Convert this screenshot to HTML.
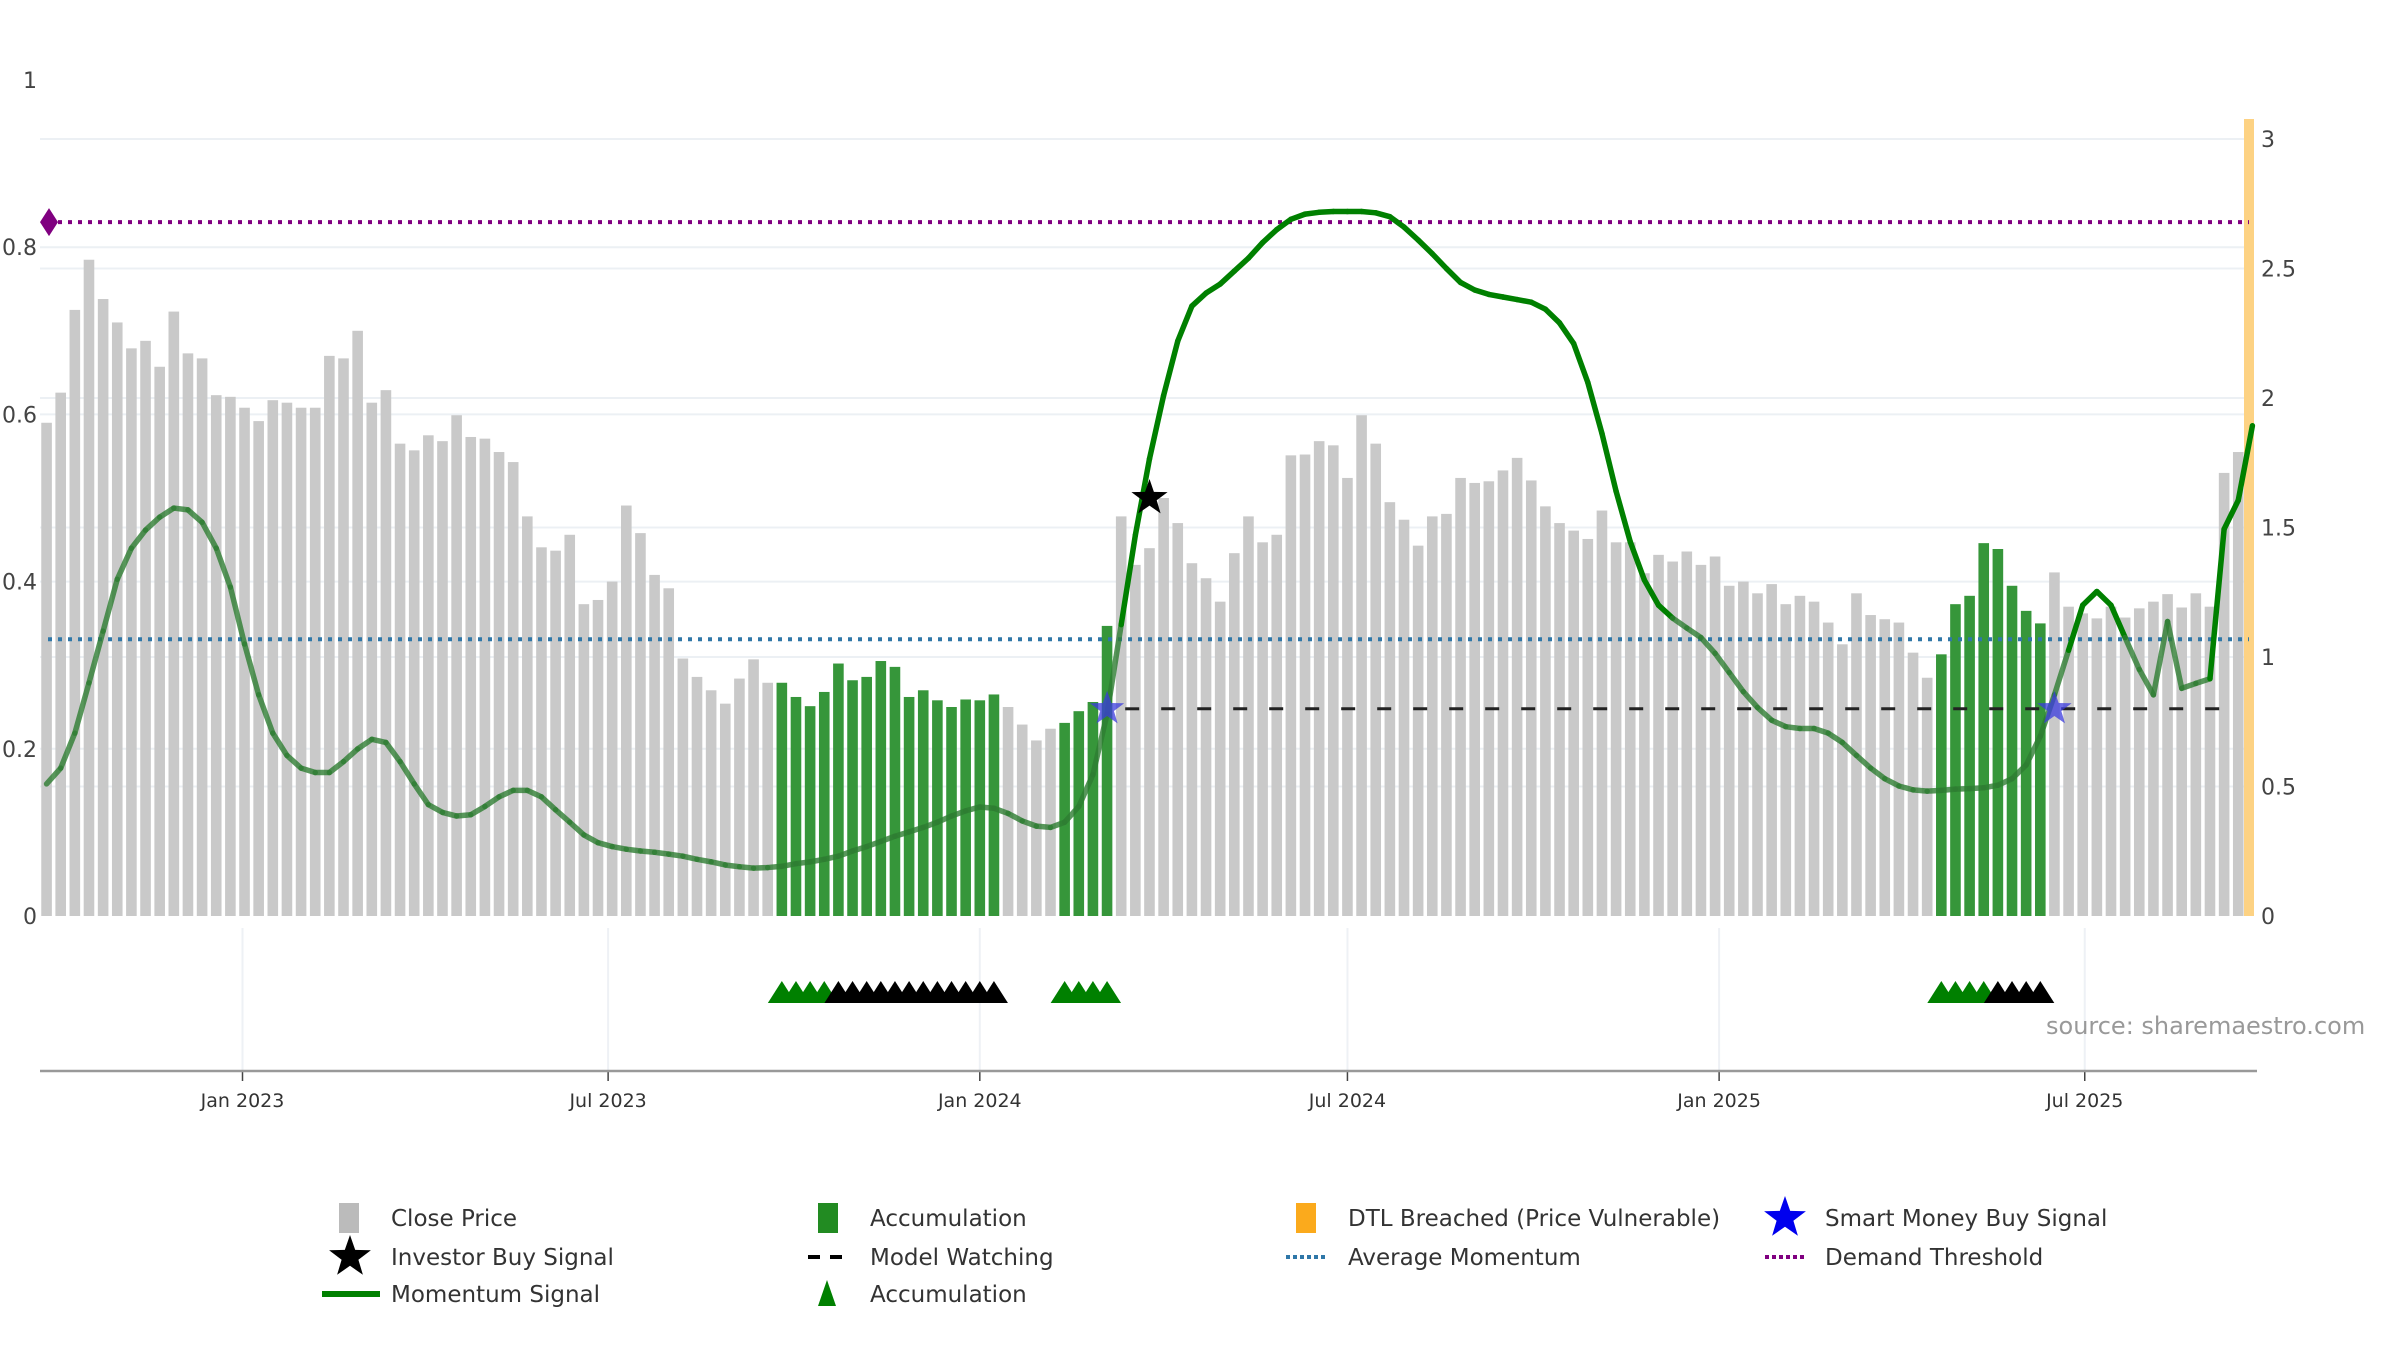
<!DOCTYPE html>
<html><head><meta charset="utf-8"><style>
html,body{margin:0;padding:0;background:#fff;}
svg{display:block;font-family:"DejaVu Sans","Liberation Sans",sans-serif;}
</style></head><body>
<svg id="chart" width="2400" height="1350" viewBox="0 0 2400 1350" xmlns="http://www.w3.org/2000/svg">
<g id="grid"></g>
<g id="bars"></g>
<g id="lines"></g>
<g id="momentum"></g>
<g id="markers"></g>
<g id="axes"></g>
<text x="2046" y="1034" font-size="24" fill="#999">source: sharemaestro.com</text>
<g id="legend"></g>
</svg>
<script>
const closePrices = [0.59,0.626,0.725,0.785,0.738,0.71,0.679,0.688,0.657,0.723,
0.673,0.667,0.623,0.621,0.608,0.592,0.617,0.614,0.608,0.608,
0.67,0.667,0.70,0.614,0.629,0.565,0.557,0.575,0.568,0.599,
0.573,0.571,0.555,0.543,0.478,0.441,0.437,0.456,0.373,0.378,
0.40,0.491,0.458,0.408,0.392,0.308,0.286,0.27,0.254,0.284,
0.307,0.279,0.279,0.262,0.251,0.268,0.302,0.282,0.286,0.305,
0.298,0.262,0.27,0.258,0.25,0.259,0.258,0.265,0.25,0.229,
0.21,0.224,0.231,0.245,0.256,0.347,0.478,0.42,0.44,0.50,
0.47,0.422,
0.404,0.376,0.434,0.478,0.447,0.456,0.551,0.552,0.568,0.563,
0.524,0.599,0.565,0.495,0.474,0.443,0.478,0.481,0.524,0.518,
0.52,0.533,0.548,0.521,0.49,0.47,0.461,0.451,0.485,0.447,
0.447,0.41,0.432,0.424,0.436,0.42,0.43,0.395,0.40,0.386,
0.397,0.373,0.383,0.376,0.351,0.325,0.386,0.36,0.355,0.351,
0.315,0.285,0.313,0.373,0.383,0.446,0.439,0.395,0.365,0.35,
0.411,0.37,0.362,0.356,0.37,0.357,0.368,0.376,0.385,0.369,
0.386,0.37,0.53,0.555];
const momentumValues = [0.51,0.571,0.706,0.90,1.10,1.30,1.42,1.49,1.54,1.575,
1.568,1.52,1.42,1.27,1.05,0.854,0.706,0.62,0.571,0.554,
0.554,0.596,0.645,0.682,0.67,0.596,0.51,0.43,0.40,0.386,
0.391,0.423,0.46,0.485,0.485,0.46,0.41,0.362,0.313,0.283,
0.268,0.258,0.251,0.246,0.239,0.231,0.219,0.209,0.197,0.19,
0.185,0.187,0.192,0.202,0.209,0.219,0.231,0.251,0.268,0.288,
0.308,0.325,0.342,0.362,0.386,0.406,0.421,0.416,0.396,0.367,
0.347,0.342,0.362,0.423,0.546,0.78,1.125,1.47,1.765,2.01,
2.22,2.355,
2.405,2.44,2.49,2.54,2.60,2.65,2.69,2.71,2.717,2.72,
2.72,2.72,2.715,2.70,2.66,2.61,2.557,2.50,2.446,2.417,
2.40,2.39,2.38,2.37,2.343,2.29,2.21,2.06,1.863,1.64,
1.445,1.297,1.20,1.15,1.112,1.075,1.014,0.94,0.866,0.805,
0.756,0.731,0.724,0.724,0.706,0.67,0.62,0.571,0.53,0.502,
0.487,0.482,0.485,0.49,0.492,0.495,0.505,0.53,0.583,0.694,
0.854,1.026,1.20,1.253,1.20,1.075,0.952,0.854,1.137,0.879,
0.898,0.916,1.494,1.605,1.893];
const accumRanges = [[52,67],[72,75],[134,141]];
const greenTriangles = [52,53,54,55,72,73,74,75,134,135,136,137];
const blackTriangles = [56,57,58,59,60,61,62,63,64,65,66,67,138,139,140,141];
const investorBuyIdx = [78];
const investorBuyValue = [0.5];
const smartMoneyIdx = [75,142];
const demandThreshold = 0.83;
const averageMomentum = 0.331;
const modelWatching = 0.80;
const modelWatchStartIdx = 76;
const leftTicks = [0,0.2,0.4,0.6,0.8,1];
const leftTickLabels = ["0","0.2","0.4","0.6","0.8","1"];
const rightTicks = [0,0.5,1,1.5,2,2.5,3];
const rightTickLabels = ["0","0.5","1","1.5","2","2.5","3"];
const xTickDays = [0,181,365,547,731,912];
const xTickLabels = ["Jan 2023","Jul 2023","Jan 2024","Jul 2024","Jan 2025","Jul 2025"];
const firstBarDay = -97;

const NS="http://www.w3.org/2000/svg";
const X0=40, X1=2249, Y0=916;
function xDay(d){return 242.5+d*2.02;}
function xIdx(i){return xDay(firstBarDay+7*i);}
function yL(v){return Y0-v*836;}
function yR(v){return Y0-v*259;}
function mk(tag,attrs,parent){const e=document.createElementNS(NS,tag);for(const k in attrs)e.setAttribute(k,attrs[k]);parent.appendChild(e);return e;}
const grid=document.getElementById('grid'),bars=document.getElementById('bars'),lines=document.getElementById('lines'),mom=document.getElementById('momentum'),markers=document.getElementById('markers'),axes=document.getElementById('axes'),legend=document.getElementById('legend');

leftTicks.forEach((t,k)=>{
  if(t>0&&t<1){const g=mk('line',{x1:X0,x2:X1,y1:yL(t),y2:yL(t),stroke:'#ecf0f4','stroke-width':2},grid);
  
  }
  const tx=mk('text',{x:37,y:yL(t)+8,'font-size':22,fill:'#444','text-anchor':'end'},axes);
  tx.textContent=leftTickLabels[k];
  
  
});
rightTicks.forEach((t,k)=>{
  if(t>0){const g=mk('line',{x1:X0,x2:X1,y1:yR(t),y2:yR(t),stroke:'#ecf0f4','stroke-width':2},grid);
  
  }
  const tx=mk('text',{x:2261,y:yR(t)+8,'font-size':22,fill:'#444'},axes);
  tx.textContent=rightTickLabels[k];
  
  
});
xTickDays.forEach((d,k)=>{
  const x=xDay(d);
  const g=mk('line',{x1:x,x2:x,y1:928,y2:1071,stroke:'#eef1f5','stroke-width':2},grid);
  
  
  const tk=mk('line',{x1:x,x2:x,y1:1071,y2:1081,stroke:'#444','stroke-width':1.5},axes);
  
  
  const tx=mk('text',{x:x,y:1107,'font-size':19,fill:'#333','text-anchor':'middle'},axes);
  tx.textContent=xTickLabels[k];
  
  
});
const ax=mk('line',{x1:40,x2:2257,y1:1071,y2:1071,stroke:'#999','stroke-width':2.5},axes);



function isAccum(i){return accumRanges.some(r=>i>=r[0]&&i<=r[1]);}
closePrices.forEach((v,i)=>{
  const x=xIdx(i),acc=isAccum(i);
  const r=mk('rect',{x:x-5.3,y:yL(v),width:10.6,height:Y0-yL(v),fill:acc?'#36963a':'#c9c9c9'},bars);
  
  
});
const ob=mk('rect',{x:2244,y:119,width:10,height:Y0-119,fill:'#fdd283'},bars);



const dl=mk('line',{x1:48,x2:2249,y1:yL(demandThreshold),y2:yL(demandThreshold),stroke:'#800080','stroke-width':4,'stroke-dasharray':'4 6'},lines);


const dd=mk('path',{d:`M49 ${yL(demandThreshold)-14} L58 ${yL(demandThreshold)} L49 ${yL(demandThreshold)+14} L40 ${yL(demandThreshold)} Z`,fill:'#800080'},lines);


const al=mk('line',{x1:48,x2:2249,y1:yL(averageMomentum),y2:yL(averageMomentum),stroke:'#2f77a8','stroke-width':4,'stroke-dasharray':'4 6'},lines);


const ml=mk('line',{x1:xIdx(modelWatchStartIdx)+4,x2:2240,y1:yR(modelWatching),y2:yR(modelWatching),stroke:'#222','stroke-width':3,'stroke-dasharray':'14 22'},lines);



for(let i=0;i<momentumValues.length-1;i++){
  const v=momentumValues[i],w=momentumValues[i+1];
  const bright=i>=70&&Math.max(v,w)>1.15;
  const s=mk('line',{x1:xIdx(i),y1:yR(v),x2:xIdx(i+1),y2:yR(w),stroke:bright?'#008000':'#2e7d32','stroke-opacity':bright?1:0.8,'stroke-width':5.5,'stroke-linecap':'round'},mom);
  
  
}

function starPath(cx,cy,R){let d='';for(let k=0;k<10;k++){const r=k%2?R*0.4:R;const a=-Math.PI/2+k*Math.PI/5;d+=(k?'L':'M')+(cx+r*Math.cos(a)).toFixed(1)+' '+(cy+r*Math.sin(a)).toFixed(1);}return d+'Z';}
investorBuyIdx.forEach((i,k)=>{
  const s=mk('path',{d:starPath(xIdx(i),yL(investorBuyValue[k]),19),fill:'#000'},markers);
  
  
});
smartMoneyIdx.forEach(i=>{
  const s=mk('path',{d:starPath(xIdx(i),yR(modelWatching),18),fill:'#3b3bdd','fill-opacity':0.75},markers);
  
  
});
function tri(i,color){
  const x=xIdx(i);
  const t=mk('path',{d:`M${x-14} 1003 L${x} 981 L${x+14} 1003 Z`,fill:color},markers);
  
  
}
greenTriangles.forEach(i=>tri(i,'#008000'));
blackTriangles.forEach(i=>tri(i,'#000'));

function ltext(x,y,s){const t=mk('text',{x:x,y:y+8,'font-size':23,fill:'#333'},legend);t.textContent=s;

}
function lg(el,name){
}
lg(mk('rect',{x:339,y:1203,width:20,height:30,fill:'#bbb'},legend),'legend-close-price');ltext(391,1218,'Close Price');
lg(mk('rect',{x:818,y:1203,width:20,height:30,fill:'#228b22'},legend),'legend-accumulation-bar');ltext(870,1218,'Accumulation');
lg(mk('rect',{x:1296,y:1203,width:20,height:30,fill:'#fbaa1c'},legend),'legend-dtl-breached');ltext(1348,1218,'DTL Breached (Price Vulnerable)');
lg(mk('path',{d:starPath(1785,1218,22),fill:'#0000ee'},legend),'legend-smart-money');ltext(1825,1218,'Smart Money Buy Signal');
lg(mk('path',{d:starPath(350,1257,22),fill:'#000'},legend),'legend-investor-buy');ltext(391,1257,'Investor Buy Signal');
lg(mk('line',{x1:808,x2:848,y1:1257,y2:1257,stroke:'#000','stroke-width':4,'stroke-dasharray':'12 10'},legend),'legend-model-watching');ltext(870,1257,'Model Watching');
lg(mk('line',{x1:1286,x2:1326,y1:1257,y2:1257,stroke:'#2f77a8','stroke-width':4,'stroke-dasharray':'4 3'},legend),'legend-average-momentum');ltext(1348,1257,'Average Momentum');
lg(mk('line',{x1:1765,x2:1805,y1:1257,y2:1257,stroke:'#800080','stroke-width':4,'stroke-dasharray':'4 3'},legend),'legend-demand-threshold');ltext(1825,1257,'Demand Threshold');
lg(mk('line',{x1:322,x2:380,y1:1294,y2:1294,stroke:'#008000','stroke-width':6},legend),'legend-momentum-signal');ltext(391,1294,'Momentum Signal');
lg(mk('path',{d:'M818 1306 L827 1280 L836 1306 Z',fill:'#008000'},legend),'legend-accumulation-triangle');ltext(870,1294,'Accumulation');
</script>
</body></html>
